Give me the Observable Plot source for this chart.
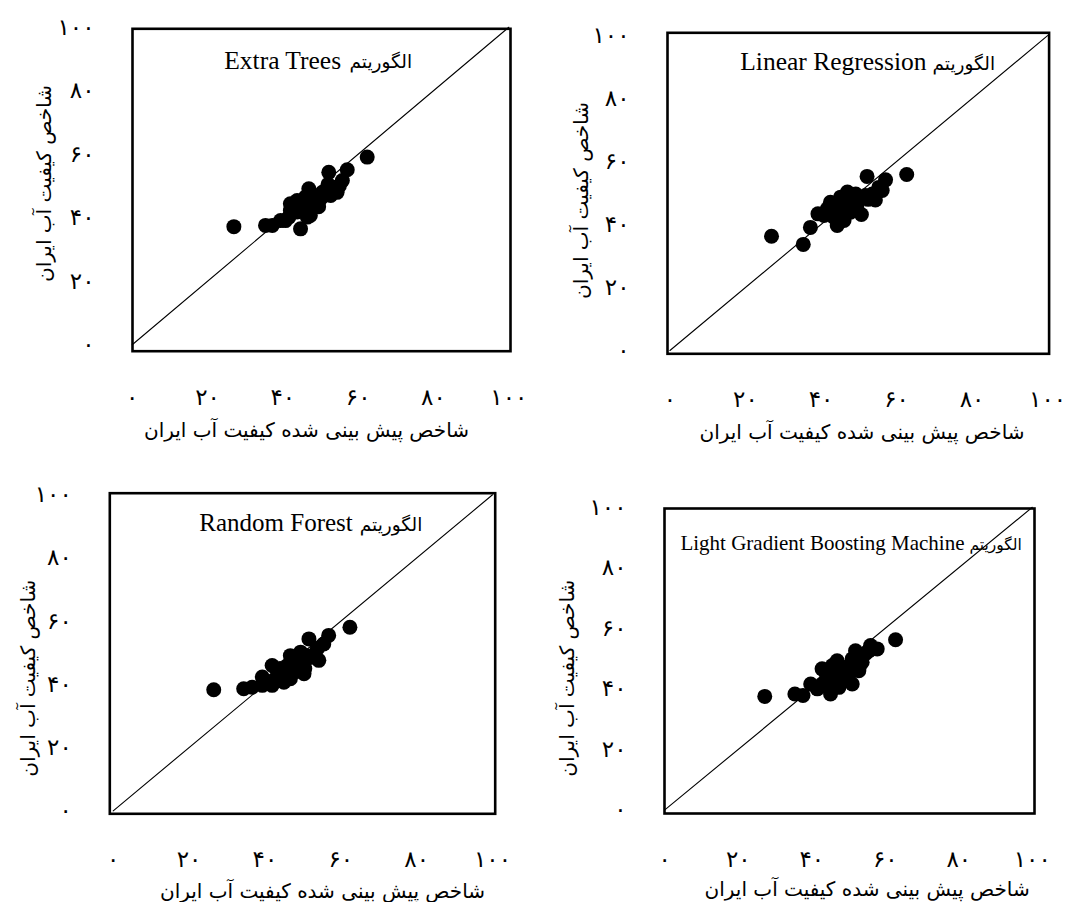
<!DOCTYPE html>
<html><head><meta charset="utf-8">
<script src="https://cdn.jsdelivr.net/npm/d3@7"></script>
<script src="https://cdn.jsdelivr.net/npm/@observablehq/plot@0.6"></script>
<style>
body{margin:0;background:#fff;}
#root{position:relative;width:1070px;height:902px;overflow:hidden;}
.panel{position:absolute;}
</style></head><body><div id="root"></div>
<script>
// ---- data ----
const tickValues = [0, 20, 40, 60, 80, 100];
const tickLabels = ["۰", "۲۰", "۴۰", "۶۰", "۸۰", "۱۰۰"];
const xTitle = "شاخص پیش بینی شده کیفیت آب ایران";
const yTitle = "شاخص کیفیت آب ایران";
const algoWord = "الگوریتم";
const algorithms = ["Extra Trees", "Linear Regression", "Random Forest", "Light Gradient Boosting Machine"];
const diagonal = [0, 100];

const etPredicted = [27.0,62.4,57.1,52.2,55.8,54.4,52.7,46.9,49.1,42.9,46.5,44.7,35.4,37.2,39.4,41.6,43.8,47.3,50.9,44.7,42.0,42.0,43.8,47.3,48.7,50.5,53.5,46.5,40.7,45.5,48.0,50.0,44.0,46.0,52.0,55.0,49.5];
const etActual    = [37.2,59.1,55.1,54.3,51.7,48.0,47.0,49.1,45.4,43.9,40.2,36.5,37.6,37.6,39.1,40.2,41.8,42.8,47.0,44.4,42.3,44.4,45.4,40.7,46.5,48.0,49.6,42.3,39.1,43.0,44.5,46.0,42.5,46.5,50.5,50.0,43.5];

const lrPredicted = [26.9,35.3,37.2,39.2,52.2,57.1,62.7,56.2,54.4,50.7,44.3,42.5,47.0,49.2,45.2,40.8,47.8,43.4,46.1,51.8,53.6,45.2,41.7,55.3,44.5,46.5,48.5,43.0,47.0,45.5,50.0,52.5,45.0,48.0,46.0,49.5,44.0];
const lrActual    = [36.3,33.7,39.1,43.4,55.3,54.2,55.9,50.8,47.8,43.2,39.7,47.1,50.3,49.7,45.5,42.9,43.9,42.3,41.3,49.2,49.7,48.7,45.0,51.8,44.0,46.0,47.0,44.5,44.5,42.0,48.0,48.0,47.0,45.5,43.5,46.0,42.5];

const rfPredicted = [26.5,34.4,36.6,39.3,41.9,39.3,41.9,44.1,46.7,46.7,48.5,50.3,51.6,54.2,53.8,55.5,56.8,62.4,45.9,43.2,49.4,51.1,45.0,40.6,44.0,47.0,48.0,49.5,52.0,42.5,45.5,50.5];
const rfActual    = [38.3,38.6,39.1,39.7,39.7,42.3,46.0,42.8,41.8,49.1,47.0,43.4,54.4,47.6,51.3,52.8,55.5,58.1,46.0,44.4,50.2,49.1,40.7,40.7,45.0,45.0,44.0,46.5,48.5,41.5,43.5,45.0];

const lgPredicted = [27.2,35.4,37.6,39.7,41.5,45.1,47.4,42.8,46.9,51.0,52.8,51.9,54.6,56.0,57.8,62.8,44.6,49.2,49.2,45.6,42.8,53.7,51.0,46.5,44.0,46.5,48.0,47.5,50.0,43.5,45.5,52.5,55.5,48.5,50.5,47.0,44.5,53.0];
const lgActual    = [37.5,38.3,37.8,41.6,40.0,38.3,40.5,46.6,49.3,41.6,46.0,52.6,51.6,54.3,53.2,56.2,43.8,46.6,43.3,47.7,41.6,48.8,49.9,41.6,44.5,44.0,45.0,47.5,47.5,42.0,42.5,50.0,52.5,43.0,45.5,42.0,40.5,47.5];

const series = [
  [etPredicted, etActual],
  [lrPredicted, lrActual],
  [rfPredicted, rfActual],
  [lgPredicted, lgActual]
];

// ---- layout (page geometry per panel) ----
const layout = [
  {left:0,   top:0,   m:[28.3,25,100.3,132], xd:[0.08,100.45], yd:[-2.02,99.5], en:208.6, fa:217, enSize:25.5, faSize:18.5, tdy:31.7, xtdx:-15,  xtdy:79.3, ytdx:-88, ytdy:-6.5},
  {left:535, top:0,   m:[32.3,21.4,97.7,132], xd:[-0.64,100.4], yd:[-1.05,100.9], en:259, fa:265, enSize:25.5, faSize:18.5, tdy:29.4, xtdx:3.7, xtdy:78.4, ytdx:-86, ytdy:7.2},
  {left:0,   top:451, m:[41.7,40.3,88.7,109.3], xd:[-0.9,100.7], yd:[-0.95,100.5], en:243, fa:250, enSize:25, faSize:18.5, tdy:30, xtdx:20, xtdy:77.7, ytdx:-81.6, ytdy:24.7},
  {left:535, top:451, m:[57,36,89,129], xd:[-0.08,100.6], yd:[-1.2,99.6], en:300, fa:305, enSize:21, faSize:15.5, tdy:34.7, xtdx:17.6, xtdy:76, ytdx:-97, ytdy:17.2}
];

const serif = "'Liberation Serif', 'Times New Roman', serif";
const faFont = "'DejaVu Sans', sans-serif";
const fmt = d => tickLabels[tickValues.indexOf(d)];

const root = document.getElementById("root");
series.forEach(([px, py], k) => {
  const L = layout[k];
  const pts = px.map((x, i) => ({x, y: py[i]}));
  const chart = Plot.plot({
    width: 535, height: 451,
    marginTop: L.m[0], marginRight: L.m[1], marginBottom: L.m[2], marginLeft: L.m[3],
    x: {domain: L.xd}, y: {domain: L.yd},
    style: {background: "white", color: "black", overflow: "visible"},
    marks: [
      Plot.axisX({ticks: tickValues, tickFormat: fmt, tickSize: 0, tickPadding: 37, fontSize: 23, fontFamily: faFont, label: null}),
      Plot.axisY({ticks: tickValues, tickFormat: fmt, tickSize: 0, tickPadding: 38, fontSize: 23, fontFamily: faFont, label: null}),
      Plot.line(diagonal, {x: d => d, y: d => d, stroke: "black", strokeWidth: 1.1}),
      Plot.dot(pts, {x: "x", y: "y", r: 7.5, fill: "black", stroke: "none"}),
      Plot.frame({stroke: "black", strokeWidth: 2.6}),
      Plot.text([algorithms[k]], {text: d => d, frameAnchor: "top-left", dx: L.en, dy: L.tdy, textAnchor: "end", lineAnchor: "middle", fontSize: L.enSize, fontFamily: serif, fill: "black"}),
      Plot.text([algoWord], {text: d => d, frameAnchor: "top-left", dx: L.fa, dy: L.tdy + 2, textAnchor: "start", lineAnchor: "middle", fontSize: L.faSize, fontFamily: faFont, fill: "black"}),
      Plot.text([xTitle], {text: d => d, frameAnchor: "bottom", dx: L.xtdx, dy: L.xtdy, textAnchor: "middle", lineAnchor: "middle", fontSize: 20, fontFamily: faFont, fill: "black"}),
      Plot.text([yTitle], {text: d => d, frameAnchor: "left", dx: L.ytdx, dy: L.ytdy, rotate: -90, textAnchor: "middle", lineAnchor: "middle", fontSize: 20, fontFamily: faFont, fill: "black"})
    ]
  });
  const div = document.createElement("div");
  div.className = "panel";
  div.style.left = L.left + "px";
  div.style.top = L.top + "px";
  div.appendChild(chart);
  root.appendChild(div);
});
</script>
</body></html>
